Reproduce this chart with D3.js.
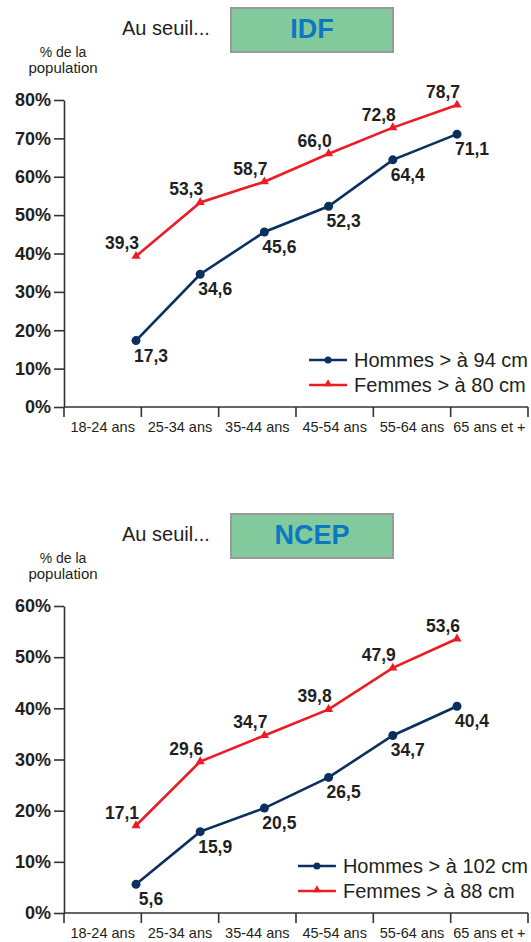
<!DOCTYPE html>
<html>
<head>
<meta charset="utf-8">
<script src="https://cdn.jsdelivr.net/npm/d3@7"></script>
<style>
  body { margin: 0; background: #fff; }
  svg { display: block; font-family: "Liberation Sans", Arial, sans-serif; }
</style>
</head>
<body>
<svg id="chart" width="531" height="942"></svg>
<script>
const ageGroups = ['18-24 ans', '25-34 ans', '35-44 ans', '45-54 ans', '55-64 ans', '65 ans et +'];

const idfHommes = [17.3, 34.6, 45.6, 52.3, 64.4, 71.1];
const idfFemmes = [39.3, 53.3, 58.7, 66.0, 72.8, 78.7];
const idfTicks = [0, 10, 20, 30, 40, 50, 60, 70, 80];

const ncepHommes = [5.6, 15.9, 20.5, 26.5, 34.7, 40.4];
const ncepFemmes = [17.1, 29.6, 34.7, 39.8, 47.9, 53.6];
const ncepTicks = [0, 10, 20, 30, 40, 50, 60];

const blue = '#0b2f5e';
const red = '#ec1c24';
const ink = '#231f20';

const svg = d3.select('#chart');
const fmt = d => d3.format('.1f')(d).replace('.', ',');

function drawPanel(oy, title, hommes, femmes, ticks, legH, legF) {
    const g = svg.append('g').attr('transform', 'translate(0,' + oy + ')');

    // header
    g.append('text').attr('x', 122).attr('y', 35)
        .style('font-size', '20px').style('fill', ink).text('Au seuil...');
    g.append('rect').attr('x', 231).attr('y', 8).attr('width', 162).attr('height', 44)
        .style('fill', '#82ca9c').style('stroke', '#9a9a9a').style('stroke-width', 2);
    g.append('text').attr('x', 312).attr('y', 38).attr('text-anchor', 'middle')
        .style('font-size', '27px').style('font-weight', 'bold').style('fill', '#0b77c5').text(title);
    g.append('text').attr('x', 63).attr('y', 57).attr('text-anchor', 'middle')
        .style('font-size', '14px').style('fill', ink).text('% de la');
    g.append('text').attr('x', 63).attr('y', 73).attr('text-anchor', 'middle')
        .style('font-size', '15px').style('fill', ink).text('population');

    // scales
    const y = d3.scaleLinear().domain([0, d3.max(ticks)]).range([407, 100]);
    const xBand = d3.scaleBand().domain(ageGroups).range([64, 528]);
    const xPt = d3.scalePoint().domain(ageGroups).range([136, 457]);

    // y axis
    const yAxis = g.append('g').attr('transform', 'translate(64,0)')
        .call(d3.axisLeft(y).tickValues(ticks).tickSize(10).tickSizeOuter(0).tickFormat(d => d + '%'));
    yAxis.selectAll('path, line').style('stroke', '#333').style('stroke-width', 1.6);
    yAxis.selectAll('text').attr('x', -13)
        .style('font-size', '18px').style('font-weight', 'bold').style('fill', ink)
        .style('font-family', '"Liberation Sans", Arial, sans-serif');

    // x axis (ticks at band edges)
    g.append('line').attr('x1', xBand.range()[0]).attr('x2', xBand.range()[1])
        .attr('y1', y(0)).attr('y2', y(0)).style('stroke', '#333').style('stroke-width', 1.6);
    const edges = ageGroups.map(c => xBand(c)).concat([xBand.range()[1]]);
    g.selectAll('.xtick').data(edges).enter().append('line')
        .attr('x1', d => d).attr('x2', d => d).attr('y1', y(0)).attr('y2', y(0) + 10)
        .style('stroke', '#333').style('stroke-width', 1.6);
    g.selectAll('.xlab').data(ageGroups).enter().append('text')
        .attr('x', d => xBand(d) + xBand.bandwidth() / 2).attr('y', y(0) + 25)
        .attr('text-anchor', 'middle').style('font-size', '14.5px').style('fill', ink)
        .text(d => d);

    const line = d3.line().x((d, i) => xPt(ageGroups[i])).y(d => y(d));

    // femmes
    g.append('path').datum(femmes).attr('d', line)
        .style('fill', 'none').style('stroke', red).style('stroke-width', 2.6);
    g.selectAll('.tri').data(femmes).enter().append('path')
        .attr('transform', (d, i) => 'translate(' + xPt(ageGroups[i]) + ',' + y(d) + ')')
        .attr('d', d3.symbol(d3.symbolTriangle, 36)).style('fill', red);
    g.selectAll('.flab').data(femmes).enter().append('text')
        .attr('x', (d, i) => xPt(ageGroups[i]) - 14).attr('y', d => y(d) - 7)
        .attr('text-anchor', 'middle').style('font-size', '17.5px').style('font-weight', 'bold')
        .style('fill', ink).text(fmt);

    // hommes
    g.append('path').datum(hommes).attr('d', line)
        .style('fill', 'none').style('stroke', blue).style('stroke-width', 2.6);
    g.selectAll('.dot').data(hommes).enter().append('circle')
        .attr('cx', (d, i) => xPt(ageGroups[i])).attr('cy', d => y(d)).attr('r', 4.5)
        .style('fill', blue);
    g.selectAll('.hlab').data(hommes).enter().append('text')
        .attr('x', (d, i) => xPt(ageGroups[i]) + 15).attr('y', d => y(d) + 21)
        .attr('text-anchor', 'middle').style('font-size', '17.5px').style('font-weight', 'bold')
        .style('fill', ink).text(fmt);

    // legend, right aligned
    const legend = [{ label: legH, color: blue, dy: -47, sym: 'c' }, { label: legF, color: red, dy: -22, sym: 't' }];
    const texts = legend.map(l => g.append('text').attr('y', y(0) + l.dy).attr('dy', '0.35em')
        .style('font-size', '20px').style('fill', ink).text(l.label));
    const w = d3.max(texts, t => t.node().getComputedTextLength());
    const tx = 528 - w;
    legend.forEach((l, i) => {
        const ly = y(0) + l.dy;
        texts[i].attr('x', tx);
        g.append('line').attr('x1', tx - 45).attr('x2', tx - 7).attr('y1', ly).attr('y2', ly)
            .style('stroke', l.color).style('stroke-width', 2.6);
        if (l.sym === 'c') {
            g.append('circle').attr('cx', tx - 26).attr('cy', ly).attr('r', 3.5).style('fill', l.color);
        } else {
            g.append('path').attr('transform', 'translate(' + (tx - 26) + ',' + (ly - 1) + ')')
                .attr('d', d3.symbol(d3.symbolTriangle, 28)).style('fill', l.color);
        }
    });
}

drawPanel(0, 'IDF', idfHommes, idfFemmes, idfTicks, 'Hommes > à 94 cm', 'Femmes > à 80 cm');
drawPanel(506, 'NCEP', ncepHommes, ncepFemmes, ncepTicks, 'Hommes > à 102 cm', 'Femmes > à 88 cm');
</script>
</body>
</html>
